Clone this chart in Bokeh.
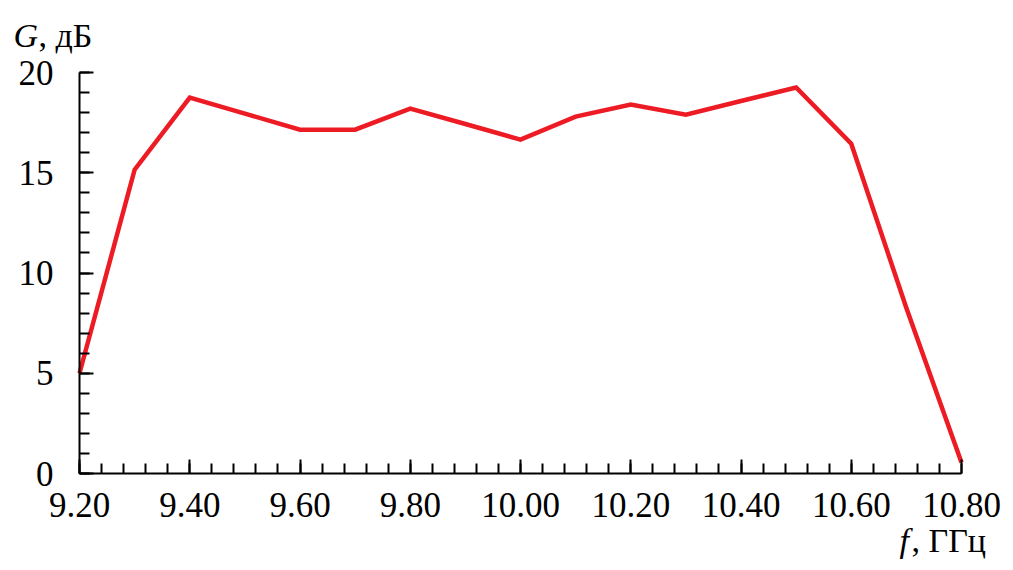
from bokeh.plotting import figure
from bokeh.models import FixedTicker, Range1d, CustomJSTickFormatter
from bokeh.core.properties import value
from bokeh.embed import file_html
from bokeh.resources import INLINE

# Data (frequency in GHz, gain in dB)
freq = [9.2, 9.3, 9.4, 9.5, 9.6, 9.7, 9.8, 9.9, 10.0, 10.1, 10.2, 10.3, 10.4, 10.5, 10.6, 10.7, 10.8]
gain = [5.0, 15.15, 18.75, 17.95, 17.15, 17.15, 18.2, 17.43, 16.65, 17.8, 18.4, 17.9, 18.58, 19.25, 16.45, 8.25, 0.55]

x_ticks = [9.2, 9.4, 9.6, 9.8, 10.0, 10.2, 10.4, 10.6, 10.8]
y_ticks = [0, 5, 10, 15, 20]
x_minor = [round(9.2 + 0.04 * i, 2) for i in range(41)]
y_minor = list(range(0, 21))

y_title = ("G", ", дБ")
x_title = ("f", ", ГГц")

FONT = "Liberation Serif"

# canvas geometry (pixels): plot area where 9.2..10.8 and 0..20 lie
W, H = 1006, 563
L, R, T, B = 79, 961, 72, 473
X0, X1 = x_ticks[0], x_ticks[-1]
Y0, Y1 = y_ticks[0], y_ticks[-1]
sx = (R - L) / (X1 - X0)
sy = (B - T) / (Y1 - Y0)
xs = X0 - L / sx
xe = X0 + (W - L) / sx
ye = Y1 + T / sy
ys = Y0 - (H - B) / sy


def px(x, y):
    return xs + x / sx, ye - y / sy


p = figure(width=W, height=H, output_backend="svg", toolbar_location=None,
           x_range=Range1d(xs, xe), y_range=Range1d(ys, ye),
           min_border=0, min_border_left=0, min_border_right=0,
           min_border_top=0, min_border_bottom=0)
p.frame_width = W
p.frame_height = H
p.outline_line_color = None
p.xgrid.visible = False
p.ygrid.visible = False

p.line(freq, gain, line_color="#ED1C24", line_width=4.5, line_join="miter")

for ax in (p.xaxis[0], p.yaxis[0]):
    ax.axis_line_width = 2
    ax.axis_line_color = "black"
    ax.major_tick_line_width = 2
    ax.minor_tick_line_width = 2
    ax.major_tick_line_color = "black"
    ax.minor_tick_line_color = "black"
    ax.major_tick_in = 14
    ax.major_tick_out = 0
    ax.minor_tick_in = 10
    ax.minor_tick_out = 0
    ax.major_label_text_font = FONT
    ax.major_label_text_font_size = "35px"
    ax.major_label_text_color = "black"

p.xaxis[0].ticker = FixedTicker(ticks=x_ticks, minor_ticks=x_minor)
p.yaxis[0].ticker = FixedTicker(ticks=y_ticks, minor_ticks=y_minor)
p.xaxis[0].formatter = CustomJSTickFormatter(code="return tick.toFixed(2);")
p.xaxis[0].fixed_location = Y0
p.yaxis[0].fixed_location = X0
p.xaxis[0].bounds = (X0, X1)
p.yaxis[0].bounds = (Y0, Y1)
p.xaxis[0].major_label_standoff = 19
p.yaxis[0].major_label_standoff = 26


def words(x, y, text, italic=False):
    dx, dy = px(x, y)
    p.text(x=[dx], y=[dy], text=[text], text_font=value(FONT),
           text_font_style="italic" if italic else "normal",
           text_font_size="34px", text_baseline="alphabetic", text_color="black")


words(13, 35, y_title[0], True)
words(38, 35, y_title[1])
words(899, 540, x_title[0], True)
words(911, 540, x_title[1])

open("out.html", "w").write(file_html(p, INLINE))
